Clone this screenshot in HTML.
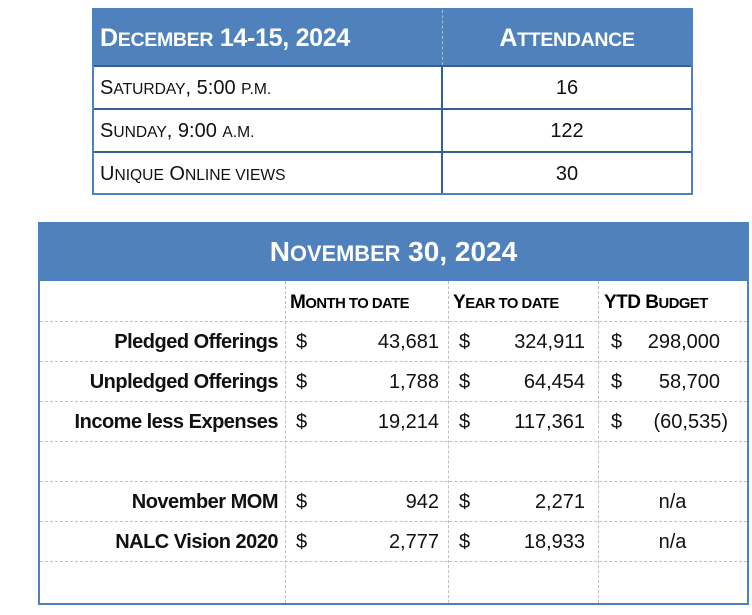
<!DOCTYPE html>
<html><head><meta charset="utf-8"><style>
body{margin:0;width:752px;height:615px;background:#fff;position:relative;font-family:"Liberation Sans",sans-serif;overflow:hidden}
.a{position:absolute;box-sizing:border-box}
.s{font-size:0.78em;text-transform:uppercase}
.c{white-space:nowrap;position:absolute;line-height:1}
.hl{position:absolute;height:0;border-top:1px dashed #bfbfbf}
.vl{position:absolute;width:0;border-left:1px dashed #bfbfbf}
</style></head><body>
<div class="a" style="left:92px;top:8px;width:601px;height:187px;border:2px solid #4f81bd">
 <div class="a" style="left:0;top:0;width:597px;height:55px;background:#4f81bd"></div>
 <div class="a" style="left:348px;top:0;width:0;height:55px;border-left:1px dashed #a9c0dc"></div>
 <div class="a" style="left:347px;top:55px;width:2px;height:128px;background:#365f91"></div>
 <div class="a" style="left:0;top:55px;width:597px;height:2px;background:#365f91"></div>
 <div class="a" style="left:0;top:98px;width:597px;height:2px;background:#365f91"></div>
 <div class="a" style="left:0;top:141px;width:597px;height:2px;background:#365f91"></div>
 <div class="c" style="left:6px;top:16px;font-size:25px;font-weight:bold;color:#fff;letter-spacing:-0.3px">D<span class="s">ecember</span> 14-15, 2024</div>
 <div class="c" style="left:349px;width:248px;text-align:center;top:16px;font-size:25px;font-weight:bold;color:#fff;letter-spacing:-0.3px">A<span class="s">ttendance</span></div>
 <div class="c" style="left:6px;top:68px;font-size:20px;color:#111">S<span class="s">aturday</span>, 5:00 <span class="s">p.m.</span></div>
 <div class="c" style="left:349px;width:248px;text-align:center;top:68px;font-size:20px;color:#111">16</div>
 <div class="c" style="left:6px;top:111px;font-size:20px;color:#111">S<span class="s">unday</span>, 9:00 <span class="s">a.m.</span></div>
 <div class="c" style="left:349px;width:248px;text-align:center;top:111px;font-size:20px;color:#111">122</div>
 <div class="c" style="left:6px;top:154px;font-size:20px;color:#111">U<span class="s">nique</span> O<span class="s">nline views</span></div>
 <div class="c" style="left:349px;width:248px;text-align:center;top:154px;font-size:20px;color:#111">30</div>
</div>

<div class="a" style="left:38px;top:222px;width:711px;height:383px;border:2px solid #4f81bd">
 <div class="a" style="left:0;top:0;width:707px;height:57px;background:#4f81bd"></div>
 <div class="c" style="left:0;width:707px;text-align:center;top:14px;font-size:28px;font-weight:bold;color:#fff">N<span class="s">ovember</span> 30, 2024</div>
 <div class="vl" style="left:245px;top:57px;height:322px"></div>
 <div class="vl" style="left:408px;top:57px;height:322px"></div>
 <div class="vl" style="left:558px;top:57px;height:322px"></div>
 <div class="hl" style="left:0;top:97px;width:707px"></div>
 <div class="hl" style="left:0;top:137px;width:707px"></div>
 <div class="hl" style="left:0;top:177px;width:707px"></div>
 <div class="hl" style="left:0;top:217px;width:707px"></div>
 <div class="hl" style="left:0;top:257px;width:707px"></div>
 <div class="hl" style="left:0;top:297px;width:707px"></div>
 <div class="hl" style="left:0;top:337px;width:707px"></div>
 <div class="c" style="left:250px;top:69px;font-size:19px;font-weight:bold;letter-spacing:-0.5px">M<span class="s">onth to date</span></div>
 <div class="c" style="left:413px;top:69px;font-size:19px;font-weight:bold;letter-spacing:-0.5px">Y<span class="s">ear to date</span></div>
 <div class="c" style="left:564px;top:69px;font-size:19px;font-weight:bold;letter-spacing:-0.5px">YTD B<span class="s">udget</span></div>
 <div id="rows"></div>
</div>
<script>
const labels=["Pledged Offerings","Unpledged Offerings","Income less Expenses","","November MOM","NALC Vision 2020"];
const mtd=["43,681","1,788","19,214","","942","2,777"];
const ytd=["324,911","64,454","117,361","","2,271","18,933"];
const bud=["298,000","58,700","(60,535)","","n/a","n/a"];
const host=document.getElementById('rows');
function txt(x,y,s,style,name){const d=document.createElement('div');d.className='c';d.style.cssText=`left:${x}px;top:${y}px;font-size:20px;color:#111;${style}`;d.textContent=s;


host.appendChild(d);}
labels.forEach((l,i)=>{if(!l)return;const y=108+i*40;
txt(0,y,l,'width:238px;text-align:right;font-weight:bold;letter-spacing:-0.5px','row-label');
txt(256,y,'$','','dollar-sign');txt(250,y,mtd[i],'width:149px;text-align:right','month-to-date-value');
txt(419,y,'$','','dollar-sign');txt(413,y,ytd[i],'width:132px;text-align:right','year-to-date-value');
if(bud[i]==='n/a')txt(558,y,'n/a','width:149px;text-align:center','ytd-budget-value');
else{txt(571,y,'$','','dollar-sign');txt(560,y,bud[i],bud[i][0]==='('?'width:128px;text-align:right':'width:120px;text-align:right','ytd-budget-value');}
});
</script>
</body></html>
